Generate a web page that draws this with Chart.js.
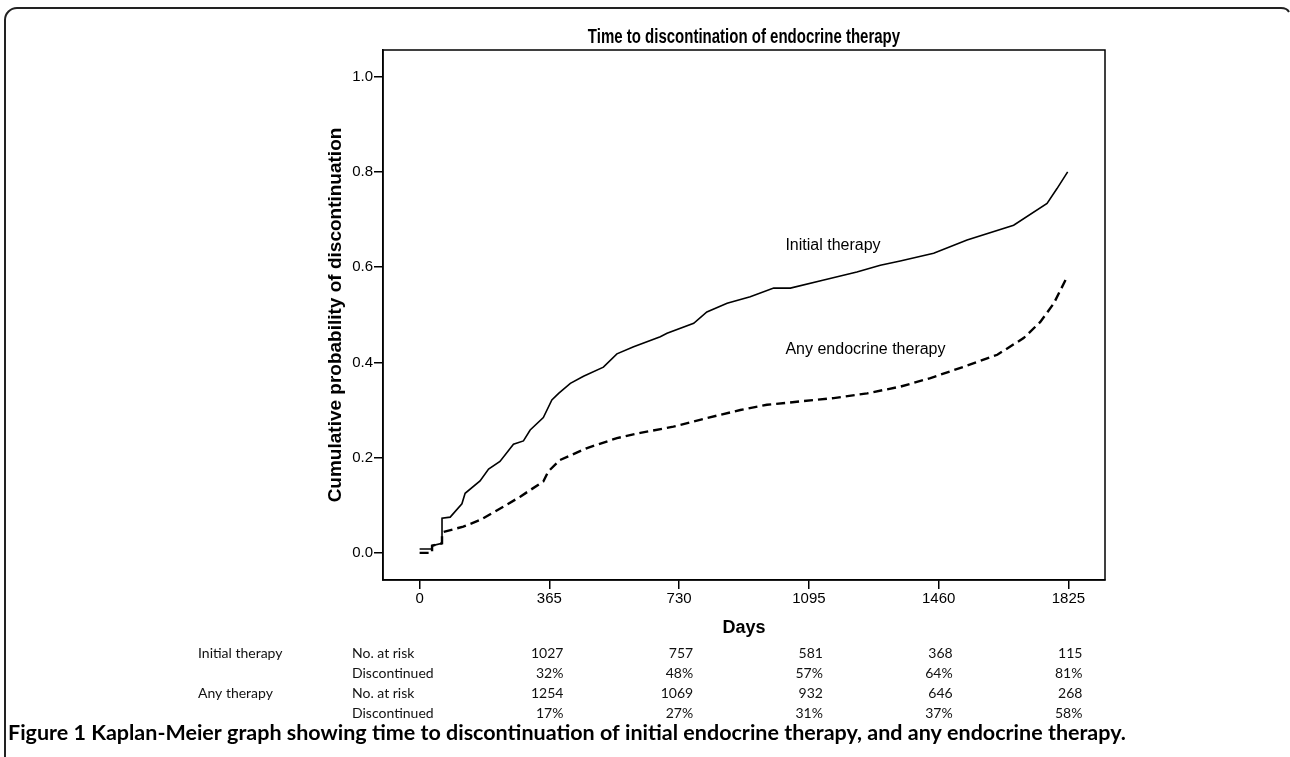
<!DOCTYPE html>
<html>
<head>
<meta charset="utf-8">
<script src="https://cdn.jsdelivr.net/npm/chart.js@4"></script>
<style>
  html, body { margin: 0; padding: 0; background: #fff; }
  #wrap { position: relative; width: 1290px; height: 757px; }
</style>
</head>
<body>
<div id="wrap"><canvas id="km"></canvas></div>
<script>
const xTicks = [0, 365, 730, 1095, 1460, 1825];
const yTicks = [0, 0.2, 0.4, 0.6, 0.8, 1.0];

// Kaplan-Meier curves (days, cumulative probability)
const initialDays = [0, 35, 35, 63, 63, 86, 119, 128, 170, 194, 226, 264, 292, 311, 348, 372, 391, 424, 461, 517, 555, 602, 677, 696, 771, 808, 865, 930, 996, 1043, 1137, 1230, 1296, 1352, 1446, 1540, 1671, 1765, 1793, 1823];
const initialProb = [0.008, 0.008, 0.015, 0.02, 0.073, 0.075, 0.103, 0.125, 0.151, 0.176, 0.192, 0.228, 0.235, 0.258, 0.284, 0.321, 0.335, 0.356, 0.371, 0.390, 0.418, 0.433, 0.454, 0.461, 0.482, 0.506, 0.524, 0.538, 0.556, 0.556, 0.573, 0.590, 0.604, 0.613, 0.629, 0.657, 0.688, 0.734, 0.765, 0.800];

const anyDays = [0, 35, 35, 63, 63, 67, 123, 170, 236, 283, 348, 362, 395, 471, 555, 621, 714, 808, 902, 977, 1071, 1165, 1259, 1352, 1437, 1531, 1625, 1699, 1746, 1784, 1817];
const anyProb = [0.0, 0.0, 0.015, 0.02, 0.04, 0.044, 0.055, 0.069, 0.097, 0.118, 0.150, 0.171, 0.195, 0.220, 0.241, 0.252, 0.265, 0.283, 0.300, 0.311, 0.318, 0.325, 0.335, 0.349, 0.367, 0.391, 0.416, 0.451, 0.485, 0.524, 0.573];

// risk table under the axis (one column per tick from 365 on)
const groupLabels = ['Initial therapy', 'Any therapy'];
const rowLabels = ['No. at risk', 'Discontinued'];
const initialAtRisk = [1027, 757, 581, 368, 115];
const initialDisc = [32, 48, 57, 64, 81];
const anyAtRisk = [1254, 1069, 932, 646, 268];
const anyDisc = [17, 27, 31, 37, 58];

const chartTitle = 'Time to discontination of endocrine therapy';
const caption = 'Figure 1 Kaplan-Meier graph showing time to discontinuation of initial endocrine therapy, and any endocrine therapy.';

const ARIAL = '"Liberation Sans", Arial, sans-serif';
const CALIBRI = 'Lato, "Noto Sans", sans-serif';

const toPoints = (xs, ys) => xs.map((d, i) => ({ x: d, y: ys[i] }));

const extras = {
  id: 'extras',
  beforeDraw(chart) {
    const ctx = chart.ctx;
    // figure frame (top and left edge, rounded corner)
    ctx.save();
    ctx.strokeStyle = '#222';
    ctx.lineWidth = 2;
    ctx.beginPath();
    ctx.moveTo(5, 757);
    ctx.lineTo(5, 20);
    ctx.arcTo(5, 8, 17, 8, 12);
    ctx.lineTo(1281, 8);
    ctx.quadraticCurveTo(1287, 8, 1289, 12);
    ctx.stroke();
    ctx.restore();
  },
  afterDraw(chart) {
    const { ctx, chartArea: a, scales: { x, y } } = chart;
    const midX = (a.left + a.right) / 2;
    ctx.save();
    ctx.strokeStyle = '#000';
    ctx.lineWidth = 1.5;
    ctx.strokeRect(a.left, a.top, a.right - a.left, a.bottom - a.top);

    ctx.fillStyle = '#000';
    ctx.textBaseline = 'middle';
    ctx.textAlign = 'center';

    // title, condensed like Arial Narrow
    ctx.save();
    ctx.font = 'bold 20px ' + ARIAL;
    ctx.translate(midX, 37);
    ctx.scale(0.75, 1);
    ctx.fillText(chartTitle, 0, 0);
    ctx.restore();

    // axis titles
    ctx.font = 'bold 18px ' + ARIAL;
    ctx.fillText('Days', midX, 628);
    ctx.save();
    ctx.font = 'bold 19px ' + ARIAL;
    ctx.translate(336, (a.top + a.bottom) / 2);
    ctx.rotate(-Math.PI / 2);
    ctx.fillText('Cumulative probability of discontinuation', 0, 0);
    ctx.restore();

    // curve labels
    ctx.font = '16px ' + ARIAL;
    ctx.textAlign = 'left';
    ctx.fillText('Initial therapy', x.getPixelForValue(1029), y.getPixelForValue(0.646));
    ctx.fillText('Any endocrine therapy', x.getPixelForValue(1029), y.getPixelForValue(0.426));

    // risk table
    ctx.font = '14px ' + CALIBRI;
    ctx.fillStyle = '#111';
    const rowsY = [653, 673, 693, 713];
    const cols = xTicks.slice(1).map(t => x.getPixelForValue(t) + 14);
    const rows = [
      initialAtRisk.map(String), initialDisc.map(v => v + '%'),
      anyAtRisk.map(String), anyDisc.map(v => v + '%'),
    ];
    rows.forEach((vals, r) => {
      ctx.textAlign = 'left';
      if (r % 2 === 0) ctx.fillText(groupLabels[r / 2], 198, rowsY[r]);
      ctx.fillText(rowLabels[r % 2], 352, rowsY[r]);
      ctx.textAlign = 'right';
      vals.forEach((v, c) => ctx.fillText(v, cols[c], rowsY[r]));
    });

    // caption
    ctx.font = 'bold 21.5px ' + CALIBRI;
    ctx.fillStyle = '#000';
    ctx.textAlign = 'left';
    ctx.fillText(caption, 8, 733);
    ctx.restore();
  }
};

new Chart(document.getElementById('km'), {
  type: 'scatter',
  data: {
    datasets: [
      {
        label: 'Initial therapy',
        data: toPoints(initialDays, initialProb),
        showLine: true,
        borderColor: '#000',
        borderWidth: 1.6,
        pointRadius: 0,
        fill: false,
      },
      {
        label: 'Any endocrine therapy',
        data: toPoints(anyDays, anyProb),
        showLine: true,
        borderColor: '#000',
        borderWidth: 2.4,
        borderDash: [9, 5],
        pointRadius: 0,
        fill: false,
      },
    ],
  },
  options: {
    responsive: true,
    maintainAspectRatio: false,
    animation: false,
    layout: { padding: { left: 323, right: 185, top: 50, bottom: 147 } },
    plugins: {
      legend: { display: false },
      tooltip: { enabled: false },
      title: { display: false },
    },
    scales: {
      x: {
        type: 'linear',
        min: -103,
        max: 1928,
        afterBuildTicks: s => { s.ticks = xTicks.map(v => ({ value: v })); },
        afterFit: s => { s.height = 30; },
        grid: { drawOnChartArea: false, drawTicks: true, tickLength: 9, color: '#000', lineWidth: 1.5 },
        border: { color: '#000', width: 1.5 },
        ticks: { color: '#000', font: { family: ARIAL, size: 15 }, padding: 1, maxRotation: 0, autoSkip: false, callback: v => String(v) },
      },
      y: {
        type: 'linear',
        min: -0.057,
        max: 1.056,
        afterBuildTicks: s => { s.ticks = yTicks.map(v => ({ value: v })); },
        afterFit: s => { s.width = 60; },
        grid: { drawOnChartArea: false, drawTicks: true, tickLength: 9, color: '#000', lineWidth: 1.5 },
        border: { color: '#000', width: 1.5 },
        ticks: { color: '#000', font: { family: ARIAL, size: 15 }, padding: 1, autoSkip: false, callback: v => v.toFixed(1) },
      },
    },
  },
  plugins: [extras],
});
</script>
</body>
</html>
